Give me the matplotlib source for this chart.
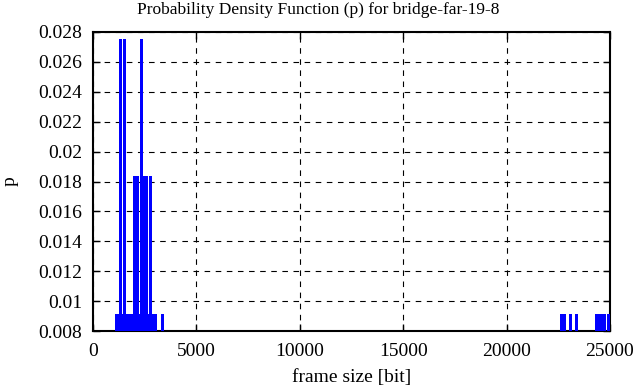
import matplotlib
matplotlib.use('Agg')
import matplotlib.pyplot as plt

frame_size = [1110, 1200, 1290, 1390, 1480, 1570, 1650, 1740, 1830, 1920,
              2010, 2100, 2190, 2280, 2370, 2460, 2550, 2640, 2730, 2820,
              2910, 3000, 3327,
              1306, 1499, 2297,
              1983, 2055, 2128, 2442, 2539, 2756,
              22620, 22766, 23056, 23346, 24313, 24410, 24507, 24603, 24700, 24903]
prob = [0.00917] * 23 + [0.0275] * 3 + [0.01835] * 6 + [0.00917] * 10

xticks = [0, 5000, 10000, 15000, 20000, 25000]
yticks = [0.008, 0.01, 0.012, 0.014, 0.016, 0.018, 0.02, 0.022, 0.024, 0.026, 0.028]
ytick_labels = ['0.008', '0.01', '0.012', '0.014', '0.016', '0.018', '0.02',
                '0.022', '0.024', '0.026', '0.028']

plt.rcParams['font.family'] = ['Liberation Serif', 'DejaVu Serif']
plt.rcParams['font.size'] = 14

fig = plt.figure(figsize=(6.36, 3.87), dpi=100)
ax = fig.add_axes([93 / 636, 1 - 331 / 387, 517 / 636, 299 / 387])

ax.vlines(frame_size, 0, prob, colors='#0000ff', linewidth=1.0,
          antialiased=False, zorder=3)

ax.set_xlim(0, 25000)
ax.set_ylim(0.008, 0.028)
ax.set_xticks(xticks)
ax.set_yticks(yticks)
ax.set_yticklabels(ytick_labels)
ax.grid(True, color='black', linestyle=(0, (5, 5)), linewidth=0.8)
ax.tick_params(direction='in', length=5, width=1, top=True, right=True,
               labelsize=14)
ax.tick_params(axis='y', pad=8)
ax.tick_params(axis='x', pad=9)
for s in ax.spines.values():
    s.set_linewidth(1.5)

fig.text(0.5, 1 - 10 / 387, 'Probability Density Function (p) for bridge-far-19-8',
         fontsize=12.5, ha='center', va='center')
ax.set_xlabel('frame size [bit]', fontsize=14, labelpad=6)
ax.set_ylabel('p', fontsize=14, labelpad=14)

fig.savefig('out.png', dpi=100)
